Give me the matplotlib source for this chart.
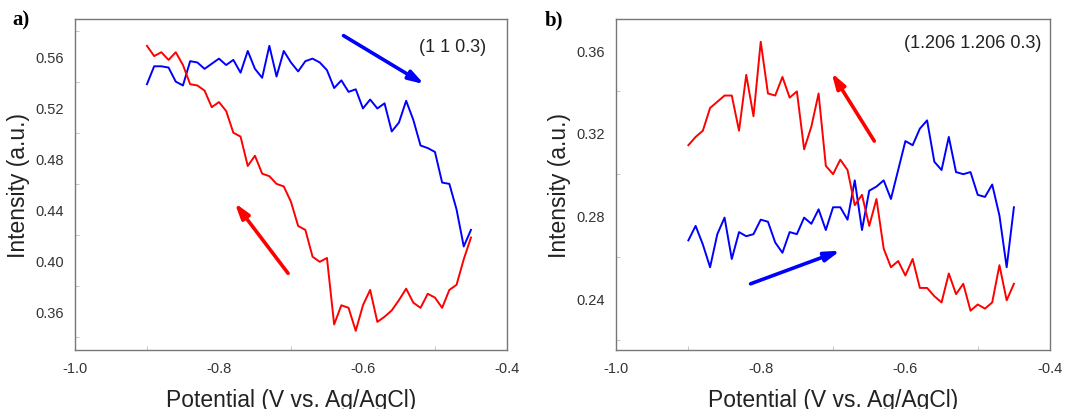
import numpy as np
import matplotlib.pyplot as plt
from matplotlib.ticker import MultipleLocator

# potential grid, 0.01 V steps from -0.90 to -0.45
potential = np.round(np.arange(-0.90, -0.449, 0.01), 2)

# panel a: (1 1 0.3)
a_forward = [0.538, 0.552, 0.552, 0.551, 0.540, 0.537, 0.556, 0.555, 0.550, 0.554,
             0.558, 0.553, 0.557, 0.547, 0.564, 0.550, 0.543, 0.568, 0.544, 0.564,
             0.555, 0.548, 0.556, 0.558, 0.555, 0.549, 0.535, 0.541, 0.532, 0.534,
             0.519, 0.526, 0.519, 0.523, 0.501, 0.508, 0.525, 0.510, 0.490, 0.488,
             0.485, 0.461, 0.460, 0.440, 0.411, 0.424]
a_reverse = [0.568, 0.560, 0.563, 0.557, 0.563, 0.553, 0.538, 0.537, 0.533, 0.520,
             0.524, 0.517, 0.500, 0.497, 0.474, 0.482, 0.468, 0.466, 0.460, 0.458,
             0.446, 0.427, 0.424, 0.403, 0.399, 0.402, 0.350, 0.365, 0.363, 0.345,
             0.365, 0.377, 0.352, 0.356, 0.361, 0.369, 0.378, 0.367, 0.363, 0.374,
             0.371, 0.363, 0.377, 0.381, 0.401, 0.418]

# panel b: (1.206 1.206 0.3)
b_forward = [0.268, 0.275, 0.266, 0.255, 0.271, 0.279, 0.259, 0.272, 0.270, 0.271,
             0.278, 0.277, 0.267, 0.262, 0.272, 0.271, 0.279, 0.276, 0.283, 0.273,
             0.284, 0.284, 0.278, 0.297, 0.273, 0.292, 0.294, 0.297, 0.288, 0.302,
             0.316, 0.314, 0.322, 0.326, 0.306, 0.302, 0.318, 0.301, 0.300, 0.301,
             0.290, 0.289, 0.295, 0.280, 0.255, 0.284]
b_reverse = [0.314, 0.318, 0.321, 0.332, 0.335, 0.338, 0.338, 0.321, 0.348, 0.328,
             0.364, 0.339, 0.338, 0.347, 0.337, 0.340, 0.312, 0.323, 0.339, 0.304,
             0.300, 0.307, 0.302, 0.285, 0.290, 0.275, 0.288, 0.264, 0.255, 0.258,
             0.251, 0.259, 0.245, 0.245, 0.241, 0.238, 0.252, 0.242, 0.247, 0.234,
             0.237, 0.235, 0.238, 0.256, 0.239, 0.247]

panels = [
    dict(tag="a)", label="(1 1 0.3)", fwd=a_forward, rev=a_reverse,
         ylim=(0.330, 0.589), yticks=[0.36, 0.40, 0.44, 0.48, 0.52, 0.56],
         blue_arrow=((-0.627, 0.576), (-0.515, 0.538)),
         red_arrow=((-0.704, 0.390), (-0.778, 0.445)),
         rect=[0.0696, 0.1439, 0.4011, 0.8073], tx=0.951, ty=0.918),
    dict(tag="b)", label="(1.206 1.206 0.3)", fwd=b_forward, rev=b_reverse,
         ylim=(0.215, 0.375), yticks=[0.24, 0.28, 0.32, 0.36],
         blue_arrow=((-0.814, 0.247), (-0.690, 0.263)),
         red_arrow=((-0.643, 0.316), (-0.702, 0.349)),
         rect=[0.572, 0.1439, 0.403, 0.8073], tx=0.979, ty=0.93),
]

plt.rcParams["font.family"] = ["Liberation Sans", "DejaVu Sans"]

fig = plt.figure(figsize=(10.77, 4.10), dpi=100)

for p in panels:
    ax = fig.add_axes(p["rect"])
    ax.plot(potential, p["fwd"], color="#0000ff", lw=1.4)
    ax.plot(potential, p["rev"], color="#ff0000", lw=1.4)

    for (tail, head), col in ((p["blue_arrow"], "#0000ff"), (p["red_arrow"], "#ff0000")):
        ax.annotate("", xy=head, xytext=tail,
                    arrowprops=dict(arrowstyle="-|>,head_length=0.9,head_width=0.28",
                                    color=col, lw=2.6, shrinkA=0, shrinkB=0))

    ax.set_xlim(-1.0, -0.4)
    ax.set_ylim(*p["ylim"])
    ax.set_xticks([-1.0, -0.8, -0.6, -0.4])
    ax.set_xticklabels(["-1.0", "-0.8", "-0.6", "-0.4"])
    ax.set_yticks(p["yticks"])
    ax.set_yticklabels([f"{v:.2f}" for v in p["yticks"]])
    ax.xaxis.set_minor_locator(MultipleLocator(0.1))
    ax.yaxis.set_minor_locator(MultipleLocator(0.02))
    ax.tick_params(which="both", direction="in", color="#bbbbbb", labelcolor="#333333",
                   labelsize=10.5)
    ax.tick_params(which="major", length=0, pad=8)
    ax.tick_params(which="minor", length=3, width=0.6)
    for s in ax.spines.values():
        s.set_color("#777777")
        s.set_linewidth(1.0)

    ax.set_xlabel("Potential (V vs. Ag/AgCl)", fontsize=16.5, color="#222222", labelpad=9)
    ax.set_ylabel("Intensity (a.u.)", fontsize=16.5, color="#222222", labelpad=4)
    ax.text(p["tx"], p["ty"], p["label"], transform=ax.transAxes, ha="right", va="center",
            fontsize=13, color="#222222")

fig.text(12 / 1077, 1 - 20 / 410, "a)", fontsize=15, fontweight="bold",
         family=["Liberation Serif", "DejaVu Serif"], va="center")
fig.text(545 / 1077, 1 - 20 / 410, "b)", fontsize=15, fontweight="bold",
         family=["Liberation Serif", "DejaVu Serif"], va="center")

fig.savefig("out.png", dpi=100)
